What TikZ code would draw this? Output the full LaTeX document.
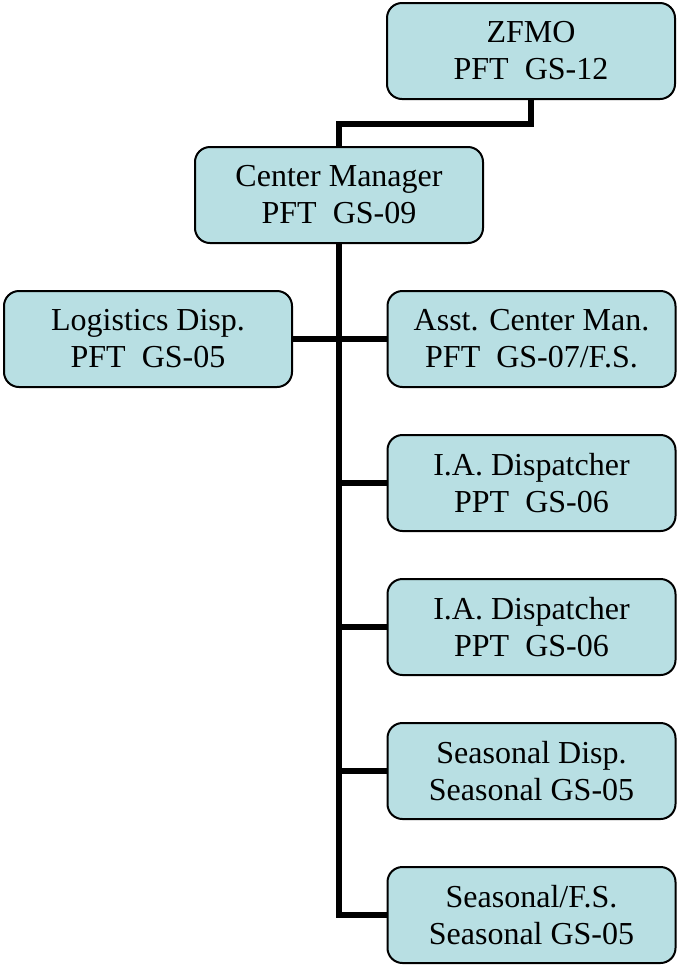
\documentclass[tikz,border=0pt]{standalone}
\usepackage{fontspec}
\setmainfont{Liberation Serif}
\usetikzlibrary{positioning}
\definecolor{boxfill}{HTML}{B8DFE3}
\tikzset{
	orgnode/.style = {
		align=center,
		inner sep=0pt,
		text centered,
		font=\fontsize{16}{18.5}\selectfont,
		anchor=center
	},
	node_box/.style = {
		orgnode,
		rectangle,
		rounded corners=7.5pt,
		draw=black,
		line width=1pt,
		fill=boxfill,
		minimum width=144pt,
		minimum height=48pt
	},
	conn/.style = {
		line width=3pt,
		black
	},
}
\begin{document}
\begin{tikzpicture}[x=0.5pt,y=-0.5pt]
\useasboundingbox (0,0) rectangle (676,965);
\node [node_box] (zfmo) at (531,51) {ZFMO\\PFT~~GS-12};
\node [node_box] (cm) at (339,195) {Center Manager\\PFT~~GS-09};
\node [node_box] (logi) at (148,339) {Logistics Disp.\\PFT~~GS-05};
\node [node_box] (asst) at (531.5,339) {Asst. Center Man.\\PFT~~GS-07/F.S.};
\node [node_box] (ia1) at (531.5,483) {I.A. Dispatcher\\PPT~~GS-06};
\node [node_box] (ia2) at (531.5,627) {I.A. Dispatcher\\PPT~~GS-06};
\node [node_box] (seas) at (531.5,771) {Seasonal Disp.\\Seasonal GS-05};
\node [node_box] (seasfs) at (531.5,915) {Seasonal/F.S.\\Seasonal GS-05};

% connectors
\draw [conn] (zfmo.south) -- ++(0,-12pt) -| (cm.north);
\draw [conn] (cm.south) |- (seasfs.west);
\draw [conn] (logi.east) -- (asst.west);
\foreach \n in {ia1,ia2,seas}
	\draw [conn] (cm.south |- \n.west) -- (\n.west);
\end{tikzpicture}
\end{document}
